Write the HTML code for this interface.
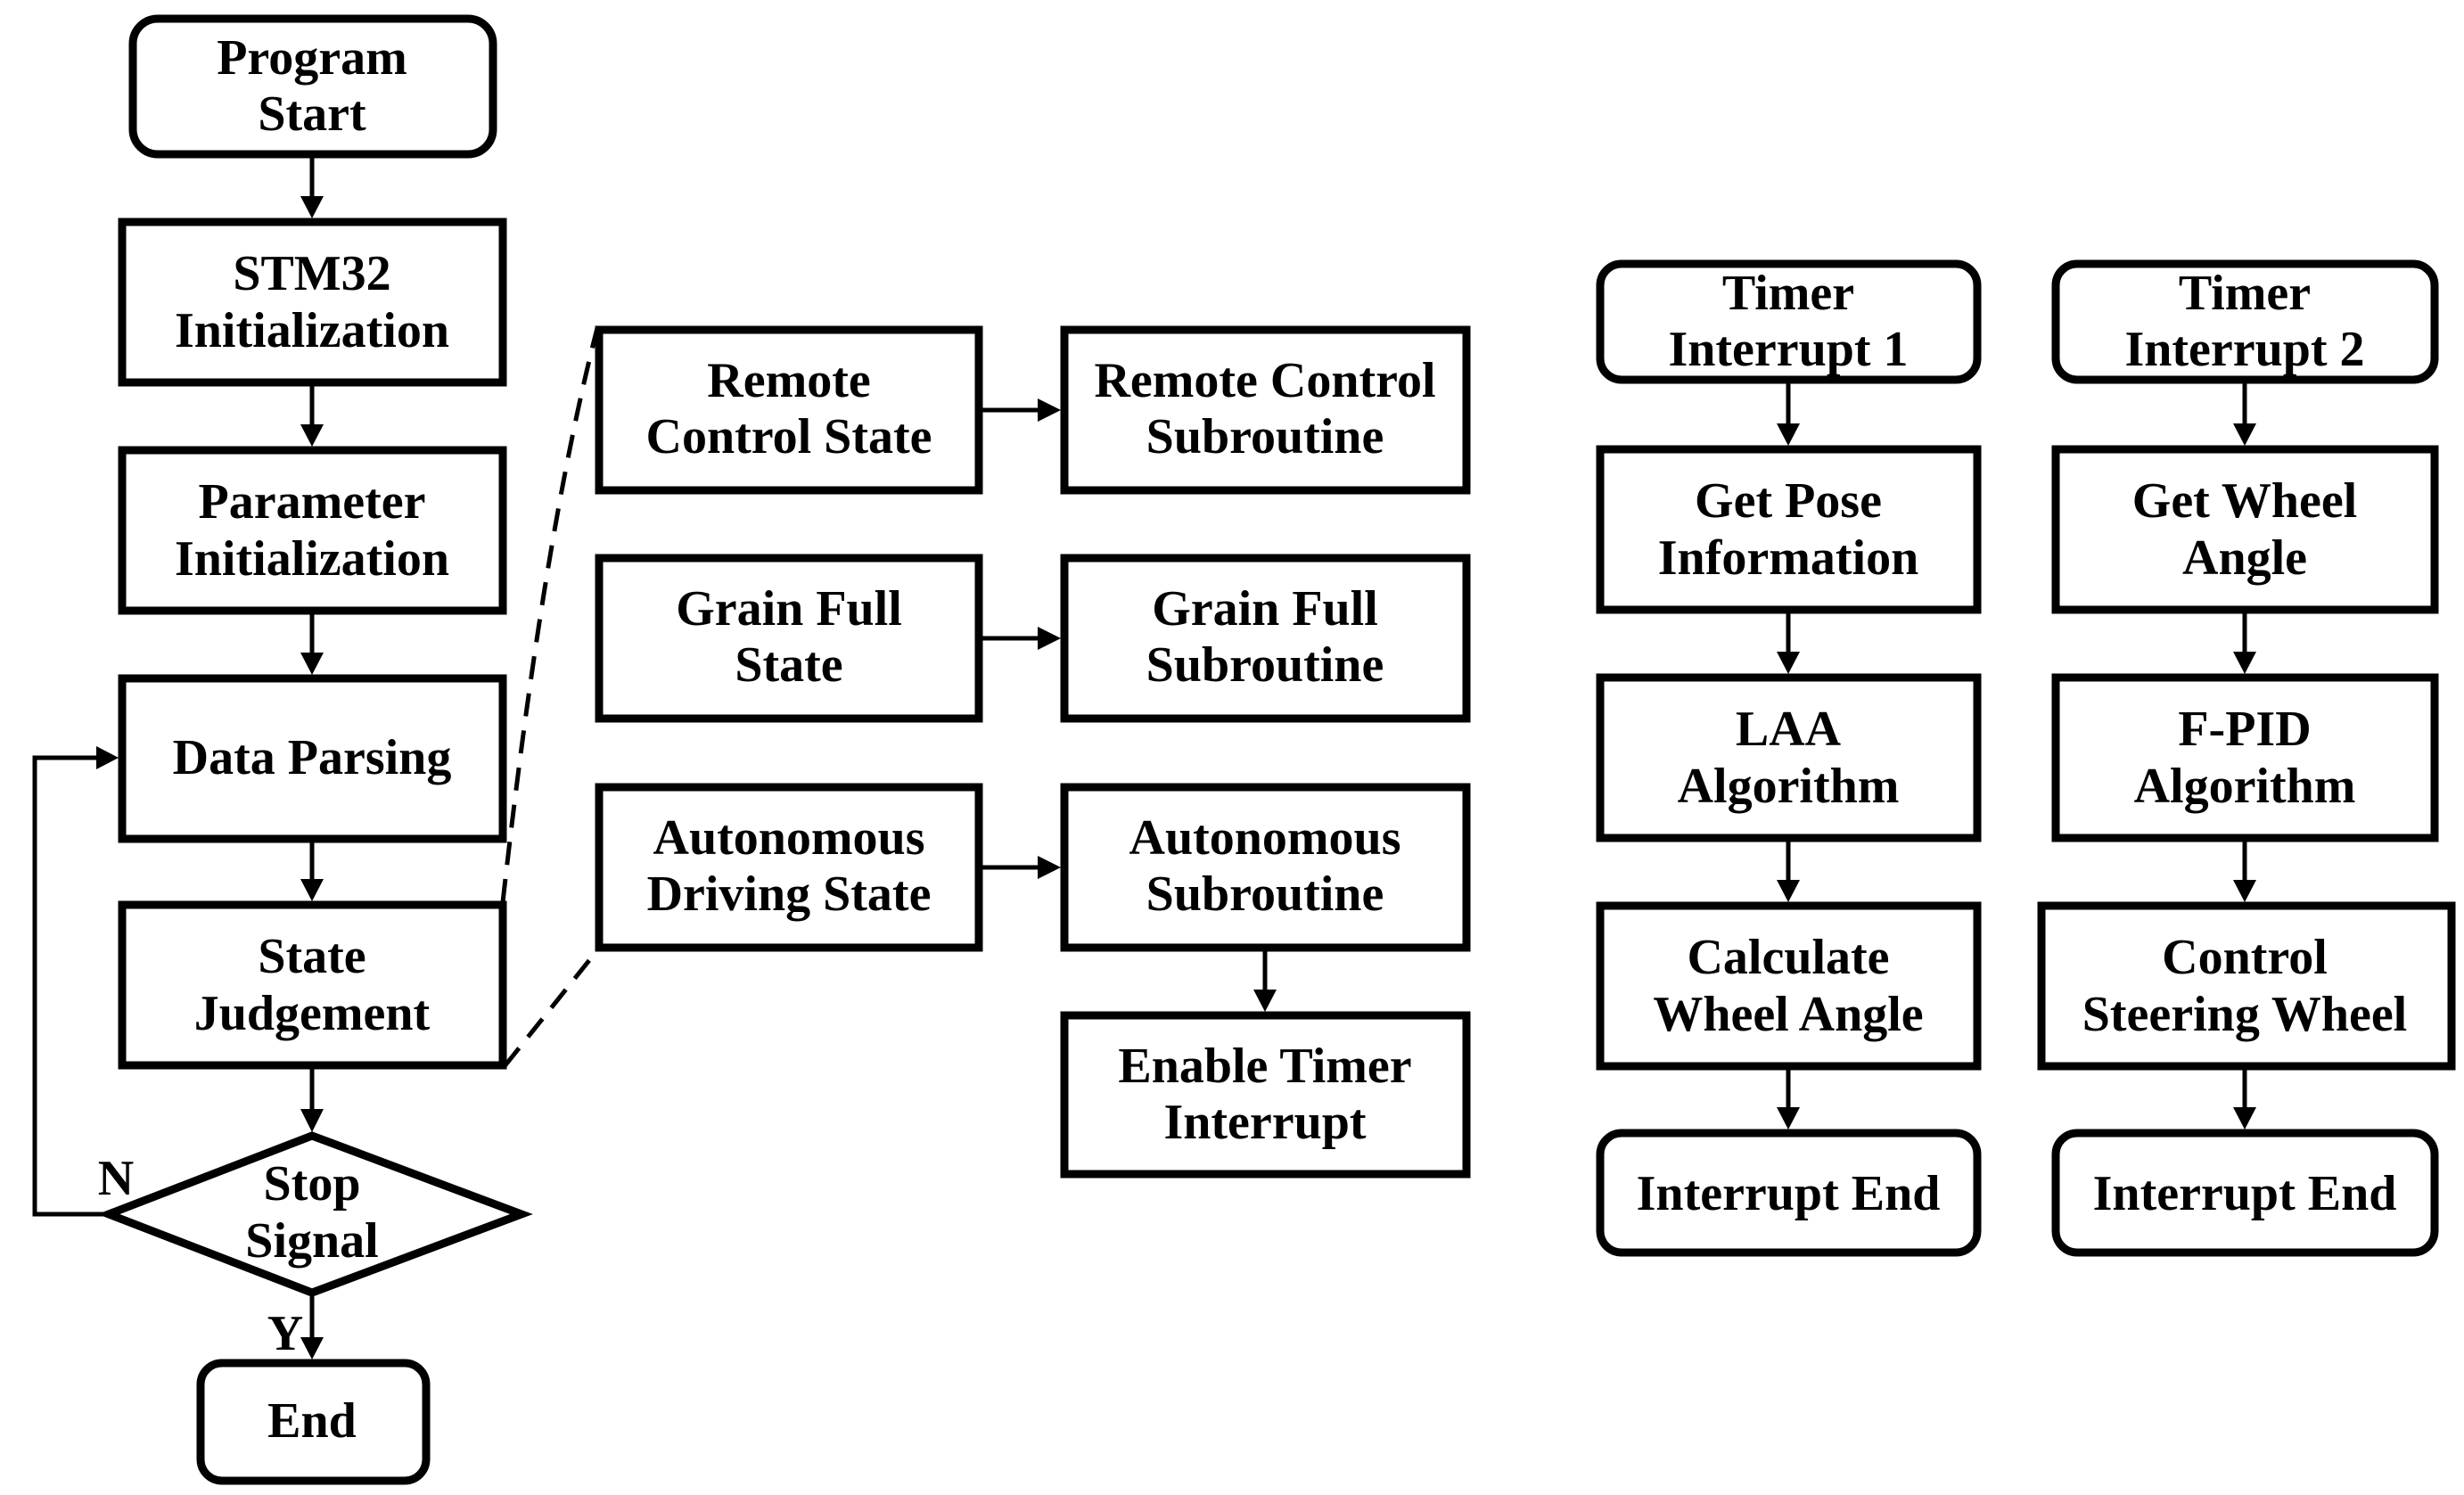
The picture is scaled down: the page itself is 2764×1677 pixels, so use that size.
<!DOCTYPE html>
<html><head><meta charset="utf-8"><style>
html,body{margin:0;padding:0;background:#fff;}
svg{display:block;}
text{font-family:"Liberation Serif",serif;font-weight:bold;font-size:56px;fill:#000;text-anchor:middle;}
</style></head><body>
<svg width="2764" height="1677" viewBox="0 0 2764 1677" xmlns="http://www.w3.org/2000/svg">
<g fill="none" stroke="#000" stroke-width="9">
<rect x="149" y="21" width="404" height="152" rx="28"/>
<rect x="137" y="249" width="427" height="180"/>
<rect x="137" y="505" width="427" height="180"/>
<rect x="137" y="761" width="427" height="180"/>
<rect x="137" y="1015" width="427" height="180"/>
<polygon points="122,1362 350,1274 585,1362 350,1450"/>
<rect x="225" y="1529" width="253" height="132" rx="24"/>
<rect x="672" y="370" width="426" height="180"/>
<rect x="1194" y="370" width="451" height="180"/>
<rect x="672" y="626" width="426" height="180"/>
<rect x="1194" y="626" width="451" height="180"/>
<rect x="672" y="883" width="426" height="180"/>
<rect x="1194" y="883" width="451" height="180"/>
<rect x="1194" y="1139" width="451" height="178"/>
<rect x="1795" y="296" width="423" height="130" rx="24"/>
<rect x="1795" y="504" width="423" height="180"/>
<rect x="1795" y="760" width="423" height="180"/>
<rect x="1795" y="1016" width="423" height="180"/>
<rect x="1795" y="1271" width="423" height="134" rx="24"/>
<rect x="2306" y="296" width="425" height="130" rx="24"/>
<rect x="2306" y="504" width="425" height="180"/>
<rect x="2306" y="760" width="425" height="180"/>
<rect x="2290" y="1016" width="460" height="180"/>
<rect x="2306" y="1271" width="425" height="134" rx="24"/>
</g>
<g stroke="#000" stroke-width="5" fill="none">
<line x1="350" y1="177" x2="350" y2="226"/>
<line x1="350" y1="433" x2="350" y2="482"/>
<line x1="350" y1="689" x2="350" y2="738"/>
<line x1="350" y1="945" x2="350" y2="992"/>
<line x1="350" y1="1199" x2="350" y2="1250"/>
<line x1="350" y1="1454" x2="350" y2="1506"/>
<polyline points="118,1362 39,1362 39,850 112,850"/>
<line x1="1102" y1="460" x2="1170" y2="460"/>
<line x1="1102" y1="716" x2="1170" y2="716"/>
<line x1="1102" y1="973" x2="1170" y2="973"/>
<line x1="1419" y1="1067" x2="1419" y2="1116"/>
<line x1="2006" y1="430" x2="2006" y2="481"/>
<line x1="2006" y1="688" x2="2006" y2="737"/>
<line x1="2006" y1="944" x2="2006" y2="993"/>
<line x1="2006" y1="1200" x2="2006" y2="1248"/>
<line x1="2518" y1="430" x2="2518" y2="481"/>
<line x1="2518" y1="688" x2="2518" y2="737"/>
<line x1="2518" y1="944" x2="2518" y2="993"/>
<line x1="2518" y1="1200" x2="2518" y2="1248"/>
</g>
<g fill="#000">
<polygon points="337,220 363,220 350,245"/>
<polygon points="337,476 363,476 350,501"/>
<polygon points="337,732 363,732 350,757"/>
<polygon points="337,986 363,986 350,1011"/>
<polygon points="337,1244 363,1244 350,1270"/>
<polygon points="337,1500 363,1500 350,1525"/>
<polygon points="108,837 108,863 133,850"/>
<polygon points="1164,447 1164,473 1190,460"/>
<polygon points="1164,703 1164,729 1190,716"/>
<polygon points="1164,960 1164,986 1190,973"/>
<polygon points="1406,1110 1432,1110 1419,1135"/>
<polygon points="1993,475 2019,475 2006,500"/>
<polygon points="1993,731 2019,731 2006,756"/>
<polygon points="1993,987 2019,987 2006,1012"/>
<polygon points="1993,1242 2019,1242 2006,1267"/>
<polygon points="2505,475 2531,475 2518,500"/>
<polygon points="2505,731 2531,731 2518,756"/>
<polygon points="2505,987 2531,987 2518,1012"/>
<polygon points="2505,1242 2531,1242 2518,1267"/>
</g>
<g stroke="#000" stroke-width="5" fill="none" stroke-dasharray="26,16">
<path d="M564,1012 Q610,600 670,368"/>
<line x1="566" y1="1196" x2="670" y2="1066"/>
</g>
<text x="350" y="83">Program</text><text x="350" y="146">Start</text>
<text x="350" y="325">STM32</text><text x="350" y="389">Initialization</text>
<text x="350" y="581">Parameter</text><text x="350" y="645">Initialization</text>
<text x="350" y="868">Data Parsing</text>
<text x="350" y="1091">State</text><text x="350" y="1155">Judgement</text>
<text x="350" y="1346">Stop</text><text x="350" y="1410">Signal</text>
<text x="350" y="1612">End</text>
<text x="130" y="1340">N</text>
<text x="320" y="1514">Y</text>
<text x="885" y="445">Remote</text><text x="885" y="508">Control State</text>
<text x="1419" y="445">Remote Control</text><text x="1419" y="508">Subroutine</text>
<text x="885" y="701">Grain Full</text><text x="885" y="764">State</text>
<text x="1419" y="701">Grain Full</text><text x="1419" y="764">Subroutine</text>
<text x="885" y="958">Autonomous</text><text x="885" y="1021">Driving State</text>
<text x="1419" y="958">Autonomous</text><text x="1419" y="1021">Subroutine</text>
<text x="1419" y="1214">Enable Timer</text><text x="1419" y="1277">Interrupt</text>
<text x="2006" y="347">Timer</text><text x="2006" y="410">Interrupt 1</text>
<text x="2006" y="580">Get Pose</text><text x="2006" y="644">Information</text>
<text x="2006" y="836">LAA</text><text x="2006" y="900">Algorithm</text>
<text x="2006" y="1092">Calculate</text><text x="2006" y="1156">Wheel Angle</text>
<text x="2006" y="1357">Interrupt End</text>
<text x="2518" y="347">Timer</text><text x="2518" y="410">Interrupt 2</text>
<text x="2518" y="580">Get Wheel</text><text x="2518" y="644">Angle</text>
<text x="2518" y="836">F-PID</text><text x="2518" y="900">Algorithm</text>
<text x="2518" y="1092">Control</text><text x="2518" y="1156">Steering Wheel</text>
<text x="2518" y="1357">Interrupt End</text>
</svg>
</body></html>
